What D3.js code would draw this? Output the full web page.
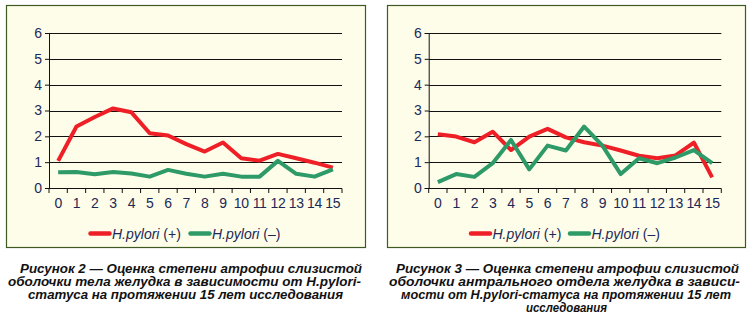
<!DOCTYPE html>
<html><head><meta charset="utf-8">
<script src="https://cdn.jsdelivr.net/npm/d3@7"></script>
<style>
html,body{margin:0;padding:0;background:#fff;}
svg{display:block;font-family:"Liberation Sans",Arial,sans-serif;}
</style></head>
<body><svg id="c" width="754" height="322"></svg>
<script>
const years = ["0","1","2","3","4","5","6","7","8","9","10","11","12","13","14","15"];
const yTicks = [0,1,2,3,4,5,6];
const seriesNames = ["H.pylori", "H.pylori"];
const seriesSuffix = [" (+)", " (–)"];
// Figure 2: body of stomach
const fig2Pos = [1.05,2.38,2.75,3.08,2.93,2.12,2.03,1.7,1.41,1.76,1.15,1.06,1.32,1.15,0.98,0.79];
const fig2Neg = [0.61,0.62,0.53,0.62,0.56,0.44,0.7,0.55,0.44,0.55,0.44,0.44,1.05,0.55,0.44,0.72];
// Figure 3: antrum
const fig3Pos = [2.08,1.99,1.77,2.18,1.47,1.99,2.29,1.96,1.77,1.64,1.45,1.25,1.15,1.26,1.76,0.41];
const fig3Neg = [0.23,0.54,0.43,0.96,1.86,0.72,1.64,1.45,2.38,1.64,0.54,1.15,0.96,1.18,1.47,0.96];
const caption2 = ["Рисунок 2 — Оценка степени атрофии слизистой",
                  "оболочки тела желудка в зависимости от H.pylori-",
                  "статуса на протяжении 15 лет исследования"];
const caption3 = ["Рисунок 3 — Оценка степени атрофии слизистой",
                  "оболочки антрального отдела желудка в зависи-",
                  "мости от H.pylori-статуса на протяжении 15 лет",
                  "исследования"];

const svg = d3.select("#c");
const colors = ["#ee1f26", "#2e9a68"];
const textCol = "#1c2957";

function panel(o){
  const g = svg.append("g");
  g.append("rect").attr("x",o.bx+0.5).attr("y",5.5).attr("width",o.bw).attr("height",242)
    .attr("fill","#fefde9").attr("stroke","#3e5a22").attr("stroke-width",1.2);
  const x = d3.scaleBand().domain(years).range([o.x0,o.x1]);
  const y = d3.scaleLinear().domain([0,6]).range([188,33]);
  g.append("g").selectAll("line").data(yTicks.filter(d=>d>0)).join("line")
    .attr("x1",o.x0).attr("x2",o.x1).attr("y1",d=>Math.round(y(d))+0.5).attr("y2",d=>Math.round(y(d))+0.5)
    .attr("stroke","#111").attr("stroke-width",1);
  const ya = g.append("g").attr("transform",`translate(${o.x0},0)`)
    .call(d3.axisLeft(y).tickValues(yTicks).tickSize(4).tickPadding(3).tickFormat(d3.format("d")));
  ya.select(".domain").attr("stroke","#111");
  ya.selectAll(".tick line").attr("stroke","#111");
  ya.selectAll("text").attr("font-size",14).attr("fill",textCol).attr("font-family","Liberation Sans, Arial, sans-serif");
  const xa = g.append("g").attr("transform",`translate(0,188.5)`)
    .call(d3.axisBottom(x).tickSize(0).tickPadding(10));
  xa.select(".domain").remove();
  xa.selectAll("text").attr("font-size",14).attr("fill",textCol).attr("font-family","Liberation Sans, Arial, sans-serif").attr("letter-spacing","-0.3");
  g.append("line").attr("x1",o.x0).attr("x2",o.x1).attr("y1",188.5).attr("y2",188.5).attr("stroke","#111");
  const bounds = years.map(d=>x(d)).concat([o.x1]);
  g.append("g").selectAll("line").data(bounds).join("line")
    .attr("x1",d=>d).attr("x2",d=>d).attr("y1",188.5).attr("y2",193).attr("stroke","#111");
  const line = d3.line().x((d,i)=>x(years[i])+x.bandwidth()/2).y(d=>y(d));
  [o.pos,o.neg].forEach((s,k)=>{
    g.append("path").datum(s).attr("d",line).attr("fill","none").attr("stroke",colors[k])
      .attr("stroke-width",4).attr("stroke-linejoin","round");
  });
  o.leg.forEach((lx,k)=>{
    g.append("line").attr("x1",lx).attr("x2",lx+19).attr("y1",233.5).attr("y2",233.5)
      .attr("stroke",colors[k]).attr("stroke-width",4.5).attr("stroke-linecap","round");
    const t = g.append("text").attr("x",lx+21.5).attr("y",238.5).attr("font-size",14).attr("fill",textCol);
    t.append("tspan").attr("font-style","italic").text(seriesNames[k]);
    t.append("tspan").text(seriesSuffix[k]);
  });
  o.cap.forEach((c,i)=>{
    svg.append("text").attr("x",(c.a+c.b)/2).attr("y",c.y).attr("text-anchor","middle")
      .attr("font-size",13.5).attr("font-weight","bold").attr("font-style","italic").attr("fill","#111")
      .attr("textLength",c.b-c.a).attr("lengthAdjust","spacingAndGlyphs").text(o.capText[i]);
  });
}

panel({bx:6,bw:359,x0:49,x1:342,pos:fig2Pos,neg:fig2Neg,leg:[90.5,190.5],
  capText:caption2,
  cap:[{a:20,b:362,y:273},{a:8,b:361,y:286},{a:28,b:343,y:299}]});
panel({bx:387,bw:358,x0:428.7,x1:721.3,pos:fig3Pos,neg:fig3Neg,leg:[471,570],
  capText:caption3,
  cap:[{a:396,b:739,y:273},{a:389,b:740,y:286},{a:401,b:731,y:299},{a:526,b:607,y:312}]});
</script></body></html>
